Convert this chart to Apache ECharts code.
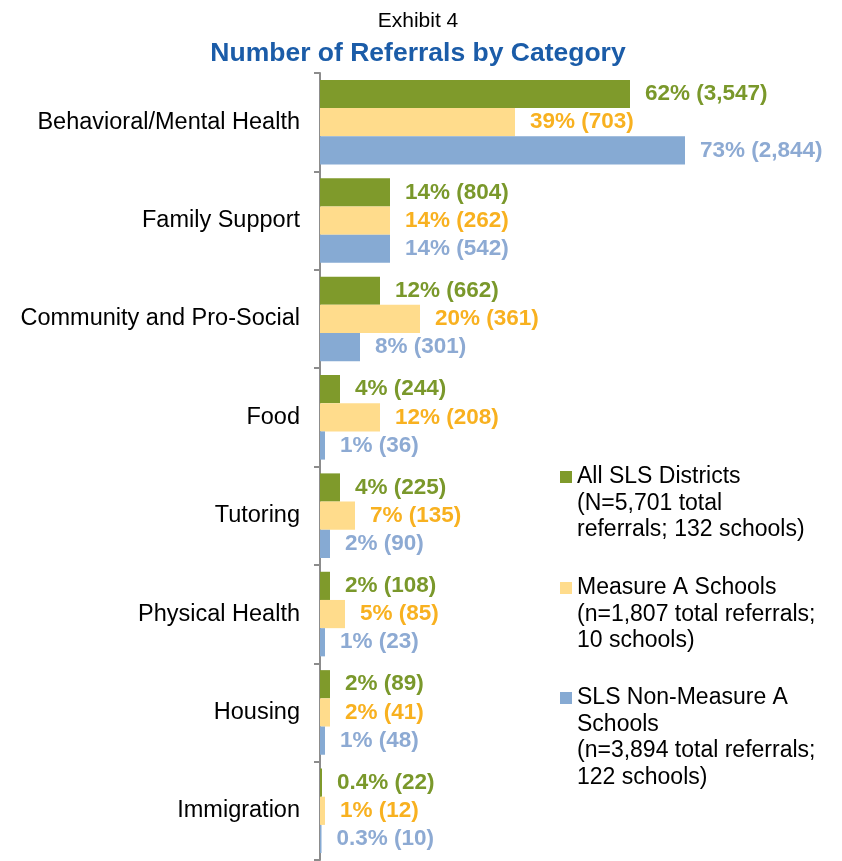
<!DOCTYPE html>
<html>
<head>
<meta charset="utf-8">
<script src="https://cdn.jsdelivr.net/npm/echarts@6/dist/echarts.min.js"></script>
<style>
  html, body { margin: 0; padding: 0; background: #ffffff; }
  #chart { width: 842px; height: 861px; }
</style>
</head>
<body>
<div id="chart"></div>
<script>
// Referral categories, top to bottom
const categories = [
  'Behavioral/Mental Health', 'Family Support', 'Community and Pro-Social',
  'Food', 'Tutoring', 'Physical Health', 'Housing', 'Immigration'
];

// Share of referrals (%) per group
const allSlsPct      = [62, 14, 12, 4, 4, 2, 2, 0.4];
const measureAPct    = [39, 14, 20, 12, 7, 5, 2, 1];
const nonMeasureAPct = [73, 14, 8, 1, 2, 1, 1, 0.3];

// Referral counts per group
const allSlsCount      = [3547, 804, 662, 244, 225, 108, 89, 22];
const measureACount    = [703, 262, 361, 208, 135, 85, 41, 12];
const nonMeasureACount = [2844, 542, 301, 36, 90, 23, 48, 10];

// Legend entries (one line per row)
const seriesNames = ['All SLS Districts', 'Measure A Schools', 'SLS Non-Measure A Schools'];
const legendLines = [
  ['All SLS Districts', '(N=5,701 total', 'referrals; 132 schools)'],
  ['Measure A Schools', '(n=1,807 total referrals;', '10 schools)'],
  ['SLS Non-Measure A', 'Schools', '(n=3,894 total referrals;', '122 schools)']
];

const FONT = '"Liberation Sans", Arial, sans-serif';
const barColors   = ['#7F9A2B', '#FFDC8C', '#86AAD3'];
const labelColors = ['#7A982B', '#F8B120', '#8DAAD3'];

function makeSeries(idx, pct, counts) {
  return {
    name: seriesNames[idx],
    type: 'bar',
    data: pct,
    barGap: '0%',
    barCategoryGap: '14%',
    itemStyle: { color: barColors[idx] },
    label: {
      show: true,
      position: 'right',
      distance: 15,
      fontFamily: FONT,
      fontSize: 22.5,
      fontWeight: 'bold',
      color: labelColors[idx],
      formatter: p => p.value + '% (' + counts[p.dataIndex].toLocaleString('en-US') + ')'
    }
  };
}

// One legend block per group. The text block is vertically centred on the icon,
// so blank lines are put in front to bring the first real line level with the icon.
const LH = 26.5;
const legendFirstLineY = [477, 588, 698];
const legends = legendLines.map((lines, i) => {
  const n = lines.length;
  const text = '\n'.repeat(n - 1) + lines.join('\n');
  return {
    data: [seriesNames[i]],
    left: 560,
    top: legendFirstLineY[i] - (2 * n - 1) * LH / 2,
    padding: 0,
    itemWidth: 12,
    itemHeight: 12,
    itemGap: 6,
    icon: 'rect',
    selectedMode: false,
    formatter: () => text,
    textStyle: {
      fontFamily: FONT,
      fontSize: 23,
      color: '#000000',
      lineHeight: LH
    }
  };
});

const chart = echarts.init(document.getElementById('chart'), null, { renderer: 'canvas' });
chart.setOption({
  animation: false,
  backgroundColor: '#ffffff',
  title: [
    {
      text: 'Exhibit 4',
      left: 413, top: 6, textAlign: 'center',
      textStyle: { fontFamily: FONT, fontSize: 21, fontWeight: 'normal', color: '#000000' }
    },
    {
      text: 'Number of Referrals by Category',
      left: 413, top: 35, textAlign: 'center',
      textStyle: { fontFamily: FONT, fontSize: 26.5, fontWeight: 'bold', color: '#1B5CA8' }
    }
  ],
  legend: legends,
  grid: { left: 320, top: 73, width: 500, height: 787 },
  xAxis: {
    type: 'value', min: 0, max: 100, show: false
  },
  yAxis: {
    type: 'category',
    data: categories,
    inverse: true,
    axisLine: { show: true, lineStyle: { color: '#8C8C8C', width: 2 } },
    axisTick: { show: true, length: 6, lineStyle: { color: '#8C8C8C', width: 2 } },
    axisLabel: { margin: 20, fontFamily: FONT, fontSize: 23.5, color: '#000000' },
    splitLine: { show: false }
  },
  series: [
    makeSeries(0, allSlsPct, allSlsCount),
    makeSeries(1, measureAPct, measureACount),
    makeSeries(2, nonMeasureAPct, nonMeasureACount)
  ]
});
</script>
</body>
</html>
